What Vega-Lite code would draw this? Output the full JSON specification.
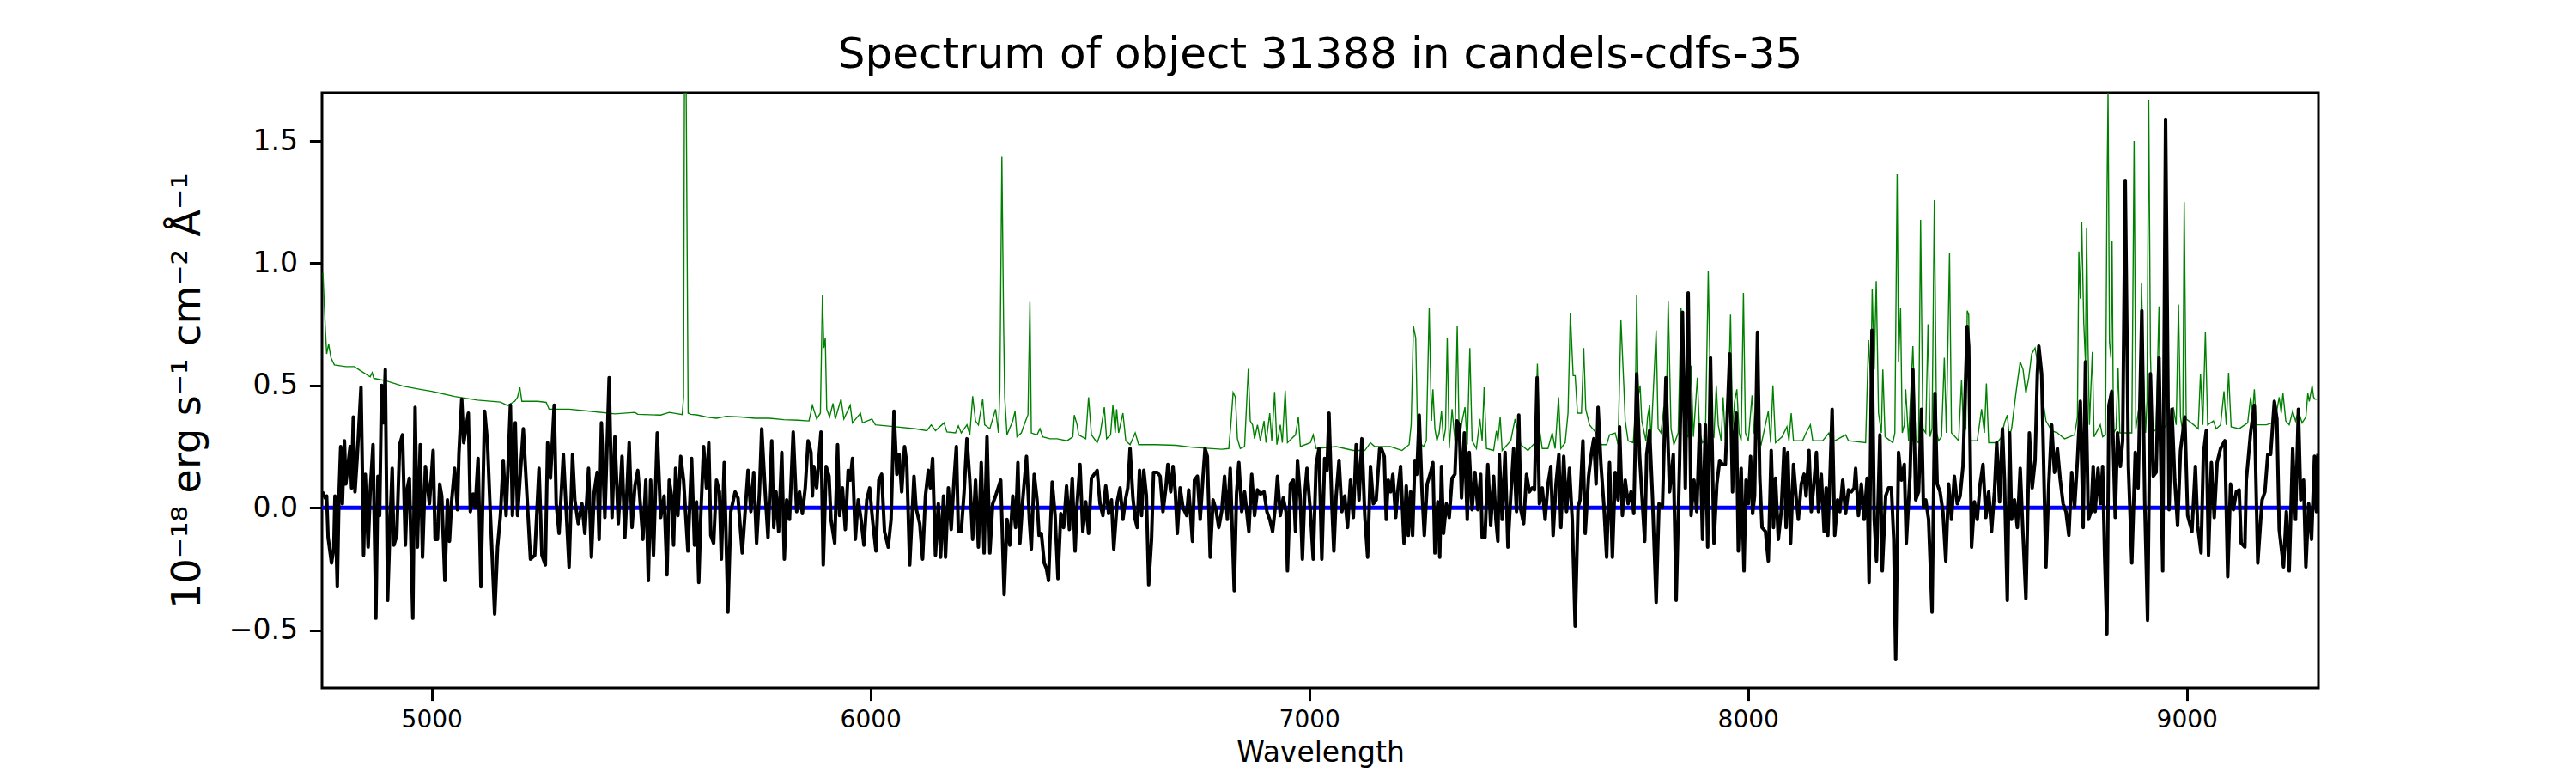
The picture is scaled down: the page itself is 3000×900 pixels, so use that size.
{
"$schema": "https://vega.github.io/schema/vega-lite/v6.json",
"autosize": {"type": "none"},
"width": 2325, "height": 693,
"padding": {"left": 375, "top": 108, "right": 300, "bottom": 99},
"background": "white",
"title": {"text": "Spectrum of object 31388 in candels-cdfs-35", "font": "DejaVu Sans", "fontSize": 50, "fontWeight": "normal", "color": "black", "anchor": "middle", "frame": "group", "baseline": "bottom", "offset": 14, "dy": 45},
"config": {
  "font": "DejaVu Sans",
  "view": {"stroke": "black", "strokeWidth": 3},
  "axis": {"grid": false, "domain": false, "tickColor": "black", "tickWidth": 3, "tickSize": 14.6, "labelColor": "black", "titleColor": "black", "titleFontWeight": "normal", "labelFont": "DejaVu Sans", "titleFont": "DejaVu Sans"}
},
"datasets": {
"flux": [
{"w":4750.8,"v":0.065},{"w":4757.4,"v":0.040},{"w":4760.6,"v":0.048},{"w":4763.9,"v":-0.121},{"w":4771.7,"v":-0.226},{"w":4776.9,"v":-0.161},{"w":4779.5,"v":0.048},{"w":4784.8,"v":-0.323},{"w":4788.7,"v":0.048},{"w":4792.6,"v":0.250},{"w":4796.5,"v":0.016},{"w":4801.1,"v":0.274},{"w":4804.3,"v":0.097},{"w":4809.5,"v":0.177},{"w":4814.1,"v":0.250},{"w":4817.4,"v":0.081},{"w":4821.3,"v":0.371},{"w":4825.2,"v":0.065},{"w":4830.4,"v":0.210},{"w":4838.9,"v":0.492},{"w":4842.2,"v":0.129},{"w":4844.8,"v":-0.194},{"w":4848.7,"v":0.137},{"w":4855.2,"v":-0.161},{"w":4859.8,"v":0.065},{"w":4866.3,"v":0.258},{"w":4872.8,"v":-0.452},{"w":4877.4,"v":0.129},{"w":4881.3,"v":-0.032},{"w":4885.9,"v":0.500},{"w":4890.4,"v":0.347},{"w":4894.3,"v":0.565},{"w":4899.6,"v":-0.379},{"w":4905.4,"v":-0.048},{"w":4910.0,"v":0.161},{"w":4913.9,"v":-0.153},{"w":4920.4,"v":-0.113},{"w":4927.0,"v":0.258},{"w":4933.5,"v":0.298},{"w":4940.0,"v":-0.153},{"w":4944.6,"v":0.081},{"w":4949.1,"v":0.121},{"w":4957.0,"v":-0.452},{"w":4962.2,"v":0.411},{"w":4967.4,"v":-0.161},{"w":4973.9,"v":0.258},{"w":4979.1,"v":-0.202},{"w":4985.7,"v":0.169},{"w":4994.8,"v":0.016},{"w":5003.3,"v":0.234},{"w":5007.8,"v":-0.129},{"w":5013.1,"v":-0.129},{"w":5018.3,"v":0.097},{"w":5022.9,"v":0.048},{"w":5030.0,"v":-0.298},{"w":5035.9,"v":0.032},{"w":5040.5,"v":-0.137},{"w":5045.7,"v":0.032},{"w":5052.2,"v":0.161},{"w":5058.7,"v":-0.008},{"w":5062.0,"v":0.218},{"w":5068.5,"v":0.444},{"w":5073.1,"v":0.266},{"w":5083.5,"v":0.387},{"w":5088.1,"v":-0.016},{"w":5094.6,"v":0.056},{"w":5099.2,"v":0.0},{"w":5105.7,"v":0.202},{"w":5112.2,"v":-0.323},{"w":5120.7,"v":0.395},{"w":5127.2,"v":0.266},{"w":5133.8,"v":-0.032},{"w":5143.5,"v":-0.435},{"w":5150.1,"v":-0.161},{"w":5156.6,"v":-0.032},{"w":5163.1,"v":0.194},{"w":5169.6,"v":-0.032},{"w":5179.4,"v":0.419},{"w":5184.0,"v":-0.032},{"w":5190.5,"v":0.347},{"w":5195.7,"v":-0.032},{"w":5208.8,"v":0.323},{"w":5225.1,"v":-0.210},{"w":5234.9,"v":-0.194},{"w":5244.6,"v":0.161},{"w":5251.2,"v":-0.194},{"w":5259.0,"v":-0.234},{"w":5264.2,"v":0.266},{"w":5270.7,"v":0.121},{"w":5279.2,"v":0.419},{"w":5283.8,"v":0.016},{"w":5290.3,"v":-0.105},{"w":5300.1,"v":0.218},{"w":5313.1,"v":-0.242},{"w":5321.0,"v":0.218},{"w":5326.2,"v":0.032},{"w":5334.0,"v":-0.065},{"w":5342.5,"v":0.016},{"w":5349.0,"v":-0.105},{"w":5357.5,"v":0.161},{"w":5364.0,"v":-0.202},{"w":5370.5,"v":0.065},{"w":5377.1,"v":0.145},{"w":5381.6,"v":-0.129},{"w":5386.8,"v":0.347},{"w":5394.7,"v":-0.040},{"w":5404.4,"v":0.532},{"w":5411.0,"v":-0.040},{"w":5417.5,"v":0.290},{"w":5425.3,"v":-0.065},{"w":5433.8,"v":0.210},{"w":5440.3,"v":-0.121},{"w":5450.1,"v":0.266},{"w":5456.6,"v":-0.081},{"w":5463.2,"v":0.089},{"w":5469.7,"v":0.153},{"w":5481.4,"v":-0.129},{"w":5488.0,"v":0.113},{"w":5493.8,"v":-0.298},{"w":5499.0,"v":0.113},{"w":5505.5,"v":-0.194},{"w":5514.1,"v":0.306},{"w":5521.9,"v":-0.040},{"w":5529.7,"v":0.048},{"w":5536.2,"v":-0.274},{"w":5541.4,"v":0.113},
{"w":5546.7,"v":0.048},{"w":5551.3,"v":-0.153},{"w":5555.8,"v":0.161},{"w":5561.1,"v":-0.032},{"w":5567.6,"v":0.210},{"w":5574.1,"v":0.113},{"w":5583.9,"v":-0.177},{"w":5592.4,"v":0.202},{"w":5598.9,"v":-0.153},{"w":5603.5,"v":0.024},{"w":5608.7,"v":-0.306},{"w":5613.3,"v":-0.032},{"w":5619.8,"v":0.250},{"w":5626.3,"v":0.081},{"w":5631.5,"v":0.266},{"w":5636.1,"v":-0.113},{"w":5642.6,"v":-0.145},{"w":5649.1,"v":0.113},{"w":5655.7,"v":0.065},{"w":5660.2,"v":-0.210},{"w":5666.7,"v":0.185},{"w":5675.2,"v":-0.427},{"w":5681.7,"v":-0.016},{"w":5691.5,"v":0.065},{"w":5698.1,"v":0.040},{"w":5707.8,"v":-0.185},{"w":5714.4,"v":-0.016},{"w":5720.9,"v":0.153},{"w":5727.4,"v":-0.016},{"w":5733.9,"v":0.145},{"w":5740.5,"v":-0.145},{"w":5747.0,"v":0.065},{"w":5752.2,"v":0.323},{"w":5760.0,"v":0.065},{"w":5766.5,"v":-0.121},{"w":5775.0,"v":0.274},{"w":5779.6,"v":-0.081},{"w":5784.8,"v":0.065},{"w":5790.7,"v":-0.097},{"w":5797.9,"v":0.226},{"w":5803.7,"v":-0.210},{"w":5809.0,"v":0.032},{"w":5815.5,"v":-0.048},{"w":5823.9,"v":0.310},{"w":5831.8,"v":-0.016},{"w":5838.3,"v":0.065},{"w":5844.8,"v":-0.024},{"w":5851.3,"v":0.081},{"w":5857.9,"v":0.274},{"w":5864.4,"v":0.226},{"w":5867.7,"v":0.048},{"w":5870.9,"v":0.169},{"w":5877.4,"v":0.081},{"w":5887.2,"v":0.310},{"w":5892.4,"v":-0.234},{"w":5899.0,"v":0.169},{"w":5905.5,"v":0.129},{"w":5910.0,"v":-0.048},{"w":5918.5,"v":-0.145},{"w":5925.1,"v":0.258},{"w":5929.6,"v":-0.032},{"w":5936.1,"v":0.081},{"w":5942.7,"v":-0.089},{"w":5949.2,"v":0.153},{"w":5953.8,"v":0.113},{"w":5959.0,"v":0.202},{"w":5965.5,"v":-0.129},{"w":5972.0,"v":0.032},{"w":5978.5,"v":-0.048},{"w":5985.1,"v":-0.153},{"w":5991.6,"v":0.032},{"w":5998.1,"v":0.081},{"w":6004.6,"v":-0.048},{"w":6012.5,"v":-0.177},{"w":6019.0,"v":0.113},{"w":6025.5,"v":0.137},{"w":6032.0,"v":-0.097},{"w":6040.5,"v":-0.161},{"w":6047.0,"v":-0.048},{"w":6053.6,"v":0.395},{"w":6060.1,"v":0.137},{"w":6065.3,"v":0.218},{"w":6071.2,"v":0.065},{"w":6077.7,"v":0.250},{"w":6082.9,"v":0.177},{"w":6089.4,"v":-0.234},{"w":6099.2,"v":0.129},{"w":6103.8,"v":0.0},{"w":6112.3,"v":-0.065},{"w":6118.8,"v":-0.210},{"w":6125.3,"v":0.048},{"w":6131.8,"v":0.153},{"w":6136.4,"v":0.081},{"w":6141.6,"v":0.202},{"w":6148.1,"v":-0.194},{"w":6154.7,"v":0.016},{"w":6159.9,"v":-0.202},{"w":6166.4,"v":0.048},{"w":6171.0,"v":-0.202},{"w":6177.5,"v":0.081},{"w":6184.0,"v":-0.089},{"w":6190.5,"v":0.113},{"w":6195.8,"v":0.250},{"w":6200.3,"v":-0.097},{"w":6206.9,"v":-0.097},{"w":6213.4,"v":0.065},{"w":6219.9,"v":0.282},{"w":6226.4,"v":0.113},{"w":6232.9,"v":-0.129},{"w":6239.5,"v":0.113},{"w":6246.0,"v":-0.161},{"w":6252.5,"v":0.185},{"w":6259.0,"v":-0.185},{"w":6265.6,"v":0.290},{"w":6272.1,"v":-0.185},{"w":6278.6,"v":0.016},{"w":6285.1,"v":0.048},{"w":6296.9,"v":0.113},{"w":6304.7,"v":-0.355},{"w":6311.2,"v":-0.048},{"w":6317.7,"v":-0.153},{"w":6324.3,"v":0.048},{"w":6330.8,"v":-0.081},{"w":6336.0,"v":0.185},{"w":6340.6,"v":-0.145},{"w":6347.1,"v":0.032},{"w":6355.6,"v":0.210},{"w":6362.1,"v":-0.048},
{"w":6366.6,"v":-0.169},{"w":6373.2,"v":0.137},{"w":6379.7,"v":0.032},{"w":6384.2,"v":-0.113},{"w":6389.5,"v":-0.105},{"w":6396.0,"v":-0.226},{"w":6401.2,"v":-0.250},{"w":6405.8,"v":-0.298},{"w":6414.2,"v":0.105},{"w":6420.8,"v":-0.032},{"w":6427.3,"v":-0.290},{"w":6433.8,"v":-0.024},{"w":6440.3,"v":-0.081},{"w":6446.9,"v":0.089},{"w":6453.4,"v":-0.089},{"w":6459.9,"v":0.121},{"w":6466.4,"v":-0.177},{"w":6471.0,"v":0.016},{"w":6477.5,"v":0.177},{"w":6484.0,"v":-0.097},{"w":6490.6,"v":0.024},{"w":6497.1,"v":-0.105},{"w":6503.6,"v":0.121},{"w":6510.1,"v":0.137},{"w":6516.7,"v":0.153},{"w":6523.2,"v":0.016},{"w":6529.7,"v":-0.032},{"w":6536.2,"v":0.089},{"w":6542.8,"v":-0.024},{"w":6549.3,"v":0.032},{"w":6554.5,"v":-0.169},{"w":6562.3,"v":0.024},{"w":6568.8,"v":0.081},{"w":6575.4,"v":-0.048},{"w":6581.9,"v":0.040},{"w":6586.5,"v":0.081},{"w":6591.7,"v":0.242},{"w":6598.2,"v":0.040},{"w":6603.4,"v":-0.048},{"w":6608.0,"v":-0.081},{"w":6613.2,"v":0.153},{"w":6617.8,"v":-0.032},{"w":6623.0,"v":0.153},{"w":6628.9,"v":0.048},{"w":6634.1,"v":-0.315},{"w":6640.6,"v":-0.129},{"w":6645.2,"v":0.145},{"w":6653.6,"v":0.145},{"w":6660.2,"v":0.129},{"w":6666.7,"v":-0.016},{"w":6673.2,"v":0.081},{"w":6677.8,"v":0.177},{"w":6684.3,"v":0.065},{"w":6689.5,"v":0.169},{"w":6694.7,"v":0.065},{"w":6699.3,"v":-0.105},{"w":6705.8,"v":0.081},{"w":6712.3,"v":0.0},{"w":6720.8,"v":-0.032},{"w":6725.4,"v":0.073},{"w":6733.9,"v":-0.137},{"w":6738.4,"v":0.113},{"w":6745.0,"v":0.129},{"w":6751.5,"v":-0.048},{"w":6758.0,"v":0.129},{"w":6762.6,"v":0.242},{"w":6767.8,"v":0.210},{"w":6774.3,"v":-0.202},{"w":6780.8,"v":0.032},{"w":6787.4,"v":-0.008},{"w":6793.9,"v":-0.081},{"w":6800.4,"v":-0.016},{"w":6807.0,"v":0.129},{"w":6813.5,"v":-0.048},{"w":6820.0,"v":0.161},{"w":6829.1,"v":-0.339},{"w":6834.3,"v":0.056},{"w":6839.6,"v":0.185},{"w":6846.1,"v":-0.016},{"w":6852.6,"v":0.065},{"w":6862.4,"v":-0.097},{"w":6868.9,"v":0.137},{"w":6875.4,"v":-0.032},{"w":6882.0,"v":0.073},{"w":6888.5,"v":0.056},{"w":6897.0,"v":0.065},{"w":6903.5,"v":-0.016},{"w":6910.0,"v":-0.048},{"w":6916.5,"v":-0.097},{"w":6923.0,"v":0.008},{"w":6927.6,"v":0.129},{"w":6934.1,"v":-0.032},{"w":6940.7,"v":0.040},{"w":6947.2,"v":-0.016},{"w":6950.4,"v":-0.258},{"w":6957.0,"v":0.097},{"w":6963.5,"v":0.113},{"w":6968.7,"v":-0.097},{"w":6973.3,"v":0.194},{"w":6979.8,"v":0.032},{"w":6984.4,"v":-0.210},{"w":6989.6,"v":0.048},{"w":6994.8,"v":0.161},{"w":7002.6,"v":-0.016},{"w":7009.1,"v":-0.210},{"w":7015.7,"v":0.177},{"w":7022.2,"v":0.242},{"w":7028.7,"v":-0.210},{"w":7035.2,"v":0.202},{"w":7040.5,"v":0.153},{"w":7045.0,"v":0.387},{"w":7051.5,"v":0.016},{"w":7056.1,"v":-0.177},{"w":7061.3,"v":0.048},{"w":7067.9,"v":0.194},{"w":7074.4,"v":-0.016},{"w":7080.9,"v":0.048},{"w":7087.4,"v":-0.081},{"w":7094.0,"v":0.113},{"w":7100.5,"v":-0.040},{"w":7107.0,"v":0.258},{"w":7113.5,"v":0.032},{"w":7120.0,"v":0.282},{"w":7126.6,"v":-0.032},{"w":7133.1,"v":-0.202},{"w":7139.6,"v":0.169},{"w":7146.1,"v":0.016},{"w":7152.6,"v":0.032},{"w":7160.5,"v":0.242},
{"w":7164.5,"v":0.242},{"w":7171.0,"v":0.210},{"w":7175.6,"v":-0.048},{"w":7180.1,"v":0.113},{"w":7185.3,"v":0.065},{"w":7190.6,"v":0.137},{"w":7197.1,"v":-0.040},{"w":7201.6,"v":0.065},{"w":7208.2,"v":0.169},{"w":7216.0,"v":-0.145},{"w":7221.2,"v":0.089},{"w":7225.8,"v":-0.113},{"w":7231.0,"v":0.065},{"w":7235.6,"v":-0.113},{"w":7240.8,"v":0.194},{"w":7245.3,"v":0.137},{"w":7250.6,"v":0.379},{"w":7257.1,"v":0.065},{"w":7262.3,"v":-0.113},{"w":7268.8,"v":0.097},{"w":7276.7,"v":0.145},{"w":7281.9,"v":0.185},{"w":7286.4,"v":-0.185},{"w":7293.0,"v":0.024},{"w":7297.5,"v":-0.202},{"w":7301.4,"v":0.169},{"w":7306.0,"v":-0.105},{"w":7312.5,"v":0.016},{"w":7319.1,"v":-0.040},{"w":7325.6,"v":0.121},{"w":7332.1,"v":0.137},{"w":7336.7,"v":0.355},{"w":7341.9,"v":0.339},{"w":7347.1,"v":0.040},{"w":7353.6,"v":0.306},{"w":7360.2,"v":-0.048},{"w":7364.7,"v":0.226},{"w":7371.2,"v":-0.008},{"w":7377.8,"v":0.145},{"w":7384.3,"v":-0.008},{"w":7390.8,"v":0.137},{"w":7394.1,"v":-0.121},{"w":7400.6,"v":-0.121},{"w":7407.1,"v":0.177},{"w":7413.6,"v":-0.073},{"w":7420.2,"v":0.129},{"w":7425.4,"v":-0.048},{"w":7429.9,"v":-0.137},{"w":7433.2,"v":0.218},{"w":7439.7,"v":-0.048},{"w":7446.3,"v":0.226},{"w":7452.8,"v":-0.161},{"w":7459.3,"v":0.048},{"w":7465.8,"v":0.242},{"w":7472.4,"v":-0.016},{"w":7477.6,"v":0.379},{"w":7482.1,"v":-0.008},{"w":7488.7,"v":-0.065},{"w":7495.2,"v":0.137},{"w":7501.7,"v":0.065},{"w":7508.2,"v":0.081},{"w":7513.4,"v":0.073},{"w":7519.3,"v":0.532},{"w":7524.5,"v":0.016},{"w":7531.1,"v":0.081},{"w":7537.6,"v":-0.048},{"w":7544.1,"v":0.097},{"w":7550.6,"v":0.169},{"w":7555.8,"v":-0.113},{"w":7562.4,"v":0.097},{"w":7568.9,"v":0.218},{"w":7573.5,"v":-0.081},{"w":7580.0,"v":0.210},{"w":7586.5,"v":-0.016},{"w":7593.0,"v":0.161},{"w":7599.6,"v":-0.056},{"w":7606.1,"v":-0.484},{"w":7612.6,"v":0.0},{"w":7617.2,"v":0.032},{"w":7623.7,"v":0.274},{"w":7628.9,"v":-0.105},{"w":7636.7,"v":0.129},{"w":7643.3,"v":0.226},{"w":7648.5,"v":0.282},{"w":7653.7,"v":0.097},{"w":7658.3,"v":0.411},{"w":7664.8,"v":0.177},{"w":7671.3,"v":0.016},{"w":7677.8,"v":-0.202},{"w":7684.4,"v":0.185},{"w":7690.9,"v":-0.202},{"w":7697.4,"v":0.145},{"w":7703.9,"v":0.032},{"w":7707.2,"v":0.331},{"w":7713.7,"v":-0.032},{"w":7720.2,"v":0.113},{"w":7726.7,"v":0.016},{"w":7733.3,"v":0.065},{"w":7739.8,"v":-0.024},{"w":7746.3,"v":0.548},{"w":7752.8,"v":0.218},{"w":7759.4,"v":0.016},{"w":7764.6,"v":-0.137},{"w":7769.1,"v":0.218},{"w":7775.7,"v":0.315},{"w":7782.2,"v":0.048},{"w":7790.7,"v":-0.387},{"w":7797.2,"v":0.016},{"w":7805.0,"v":0.0},{"w":7812.9,"v":0.532},{"w":7821.3,"v":0.065},{"w":7829.8,"v":0.218},{"w":7836.3,"v":-0.379},{"w":7844.2,"v":0.194},{"w":7850.7,"v":0.800},{"w":7857.2,"v":0.081},{"w":7863.7,"v":0.879},{"w":7870.3,"v":-0.032},{"w":7876.8,"v":0.113},{"w":7883.3,"v":-0.016},{"w":7889.8,"v":0.339},{"w":7896.4,"v":-0.129},{"w":7902.9,"v":0.339},{"w":7908.1,"v":-0.161},{"w":7914.6,"v":0.613},{"w":7922.4,"v":-0.145},{"w":7929.0,"v":0.097},{"w":7935.5,"v":0.194},{"w":7942.0,"v":0.177},{"w":7948.5,"v":0.177},{"w":7958.3,"v":0.629},{"w":7964.8,"v":0.065},
{"w":7968.1,"v":0.274},{"w":7973.3,"v":0.387},{"w":7977.9,"v":-0.177},{"w":7984.4,"v":0.161},{"w":7990.9,"v":-0.258},{"w":7995.5,"v":0.113},{"w":8000.7,"v":0.016},{"w":8005.9,"v":0.210},{"w":8010.5,"v":-0.024},{"w":8015.0,"v":0.048},{"w":8021.6,"v":0.718},{"w":8026.8,"v":0.129},{"w":8032.0,"v":-0.081},{"w":8039.8,"v":-0.097},{"w":8046.3,"v":-0.218},{"w":8052.9,"v":0.234},{"w":8058.1,"v":-0.081},{"w":8062.7,"v":0.121},{"w":8069.2,"v":-0.129},{"w":8075.7,"v":-0.016},{"w":8082.2,"v":0.242},{"w":8086.8,"v":-0.081},{"w":8090.7,"v":0.226},{"w":8097.2,"v":-0.145},{"w":8103.7,"v":0.177},{"w":8110.3,"v":0.032},{"w":8114.8,"v":-0.048},{"w":8121.4,"v":0.097},{"w":8127.9,"v":0.137},{"w":8132.4,"v":0.048},{"w":8139.0,"v":0.234},{"w":8144.2,"v":-0.016},{"w":8149.4,"v":0.081},{"w":8155.9,"v":0.226},{"w":8160.5,"v":-0.016},{"w":8167.0,"v":0.137},{"w":8173.5,"v":-0.097},{"w":8178.1,"v":0.081},{"w":8182.0,"v":-0.113},{"w":8186.6,"v":0.113},{"w":8191.8,"v":0.403},{"w":8197.7,"v":-0.113},{"w":8204.2,"v":0.032},{"w":8209.4,"v":-0.016},{"w":8215.9,"v":0.113},{"w":8222.5,"v":-0.024},{"w":8229.0,"v":0.073},{"w":8235.5,"v":0.065},{"w":8242.0,"v":0.081},{"w":8245.3,"v":0.161},{"w":8251.8,"v":-0.032},{"w":8258.3,"v":0.097},{"w":8264.9,"v":-0.048},{"w":8271.4,"v":0.121},{"w":8276.0,"v":-0.306},{"w":8282.5,"v":0.726},{"w":8287.7,"v":-0.048},{"w":8292.9,"v":-0.218},{"w":8300.7,"v":0.298},{"w":8306.0,"v":-0.258},{"w":8313.8,"v":0.048},{"w":8320.3,"v":0.081},{"w":8326.8,"v":0.081},{"w":8332.1,"v":-0.129},{"w":8336.6,"v":-0.621},{"w":8343.1,"v":0.226},{"w":8349.7,"v":0.113},{"w":8356.2,"v":0.177},{"w":8360.8,"v":-0.145},{"w":8369.2,"v":0.129},{"w":8375.8,"v":0.565},{"w":8382.3,"v":0.032},{"w":8388.8,"v":0.065},{"w":8395.3,"v":0.403},{"w":8399.9,"v":0.0},{"w":8405.1,"v":0.032},{"w":8411.6,"v":-0.048},{"w":8419.5,"v":-0.427},{"w":8426.0,"v":0.468},{"w":8431.2,"v":0.097},{"w":8437.7,"v":0.065},{"w":8444.3,"v":-0.016},{"w":8450.8,"v":-0.218},{"w":8457.3,"v":0.097},{"w":8463.8,"v":-0.048},{"w":8470.3,"v":0.129},{"w":8476.9,"v":0.016},{"w":8483.4,"v":0.048},{"w":8489.9,"v":0.169},{"w":8499.7,"v":0.742},{"w":8503.0,"v":0.661},{"w":8509.5,"v":-0.161},{"w":8516.0,"v":0.024},{"w":8522.5,"v":-0.048},{"w":8529.0,"v":0.097},{"w":8535.6,"v":0.177},{"w":8542.1,"v":-0.040},{"w":8548.6,"v":0.065},{"w":8555.1,"v":-0.097},{"w":8561.7,"v":0.065},{"w":8566.9,"v":0.266},{"w":8573.4,"v":0.024},{"w":8579.9,"v":0.323},{"w":8584.5,"v":0.113},{"w":8591.0,"v":-0.379},{"w":8596.2,"v":0.306},{"w":8600.8,"v":-0.048},{"w":8607.3,"v":0.032},{"w":8613.9,"v":-0.081},{"w":8620.4,"v":0.161},{"w":8626.9,"v":-0.113},{"w":8633.4,"v":-0.371},{"w":8641.3,"v":0.306},{"w":8647.8,"v":0.081},{"w":8654.3,"v":0.194},{"w":8659.5,"v":0.548},{"w":8662.8,"v":0.661},{"w":8669.3,"v":0.548},{"w":8679.1,"v":-0.242},{"w":8685.6,"v":0.097},{"w":8692.1,"v":0.339},{"w":8698.6,"v":0.145},{"w":8705.2,"v":0.242},{"w":8711.7,"v":0.113},{"w":8718.2,"v":0.016},{"w":8724.7,"v":-0.016},{"w":8731.3,"v":-0.113},{"w":8737.8,"v":0.145},{"w":8744.3,"v":0.0},{"w":8750.8,"v":0.194},{"w":8757.4,"v":0.435},{"w":8763.9,"v":-0.081},{"w":8769.1,"v":0.597},
{"w":8775.6,"v":-0.048},{"w":8782.1,"v":-0.016},{"w":8786.7,"v":0.169},{"w":8791.3,"v":-0.016},{"w":8797.8,"v":0.161},{"w":8803.0,"v":0.016},{"w":8808.2,"v":0.169},{"w":8812.8,"v":-0.194},{"w":8818.0,"v":-0.516},{"w":8822.6,"v":0.419},{"w":8829.1,"v":0.476},{"w":8837.0,"v":-0.040},{"w":8842.2,"v":0.306},{"w":8848.7,"v":0.169},{"w":8853.9,"v":0.274},{"w":8859.8,"v":1.339},{"w":8867.0,"v":0.169},{"w":8874.8,"v":-0.226},{"w":8882.6,"v":0.226},{"w":8889.1,"v":0.081},{"w":8897.6,"v":0.806},{"w":8904.1,"v":0.032},{"w":8910.7,"v":-0.460},{"w":8917.2,"v":0.548},{"w":8923.7,"v":0.129},{"w":8930.2,"v":0.145},{"w":8936.7,"v":0.613},{"w":8945.2,"v":-0.258},{"w":8951.7,"v":1.589},{"w":8959.6,"v":-0.008},{"w":8966.1,"v":0.403},{"w":8972.6,"v":0.113},{"w":8979.1,"v":-0.073},{"w":8985.7,"v":0.234},{"w":8995.5,"v":0.371},{"w":9002.0,"v":-0.032},{"w":9011.8,"v":-0.097},{"w":9019.6,"v":0.169},{"w":9024.8,"v":-0.073},{"w":9032.6,"v":-0.185},{"w":9037.9,"v":0.218},{"w":9044.4,"v":0.315},{"w":9049.6,"v":-0.194},{"w":9056.1,"v":0.185},{"w":9062.6,"v":-0.040},{"w":9069.2,"v":0.185},{"w":9077.0,"v":0.242},{"w":9086.8,"v":0.274},{"w":9093.3,"v":-0.282},{"w":9099.8,"v":0.097},{"w":9106.3,"v":-0.008},{"w":9112.9,"v":0.065},{"w":9119.4,"v":0.073},{"w":9124.0,"v":-0.145},{"w":9132.4,"v":-0.161},{"w":9135.7,"v":0.113},{"w":9145.5,"v":0.306},{"w":9153.9,"v":0.419},{"w":9161.8,"v":-0.226},{"w":9171.6,"v":0.032},{"w":9178.1,"v":0.065},{"w":9184.6,"v":0.218},{"w":9191.1,"v":0.218},{"w":9199.6,"v":0.435},{"w":9205.5,"v":0.363},{"w":9210.7,"v":-0.089},{"w":9220.5,"v":-0.242},{"w":9227.0,"v":-0.016},{"w":9233.5,"v":-0.258},{"w":9241.4,"v":0.242},{"w":9247.9,"v":-0.048},{"w":9254.4,"v":0.403},{"w":9259.6,"v":0.032},{"w":9266.2,"v":0.113},{"w":9271.4,"v":-0.242},{"w":9277.9,"v":0.016},{"w":9284.4,"v":-0.129},{"w":9291.0,"v":0.210},{"w":9295.5,"v":-0.016},{"w":9298.8,"v":0.220}
],
"err": [
{"w":4752.1,"v":0.960},{"w":4757.4,"v":0.742},{"w":4760.6,"v":0.629},{"w":4765.2,"v":0.669},{"w":4770.4,"v":0.613},{"w":4778.2,"v":0.584},{"w":4804.3,"v":0.577},{"w":4823.9,"v":0.577},{"w":4837.0,"v":0.561},{"w":4859.8,"v":0.535},{"w":4864.3,"v":0.552},{"w":4868.3,"v":0.529},{"w":4895.7,"v":0.519},{"w":4934.8,"v":0.497},{"w":4973.9,"v":0.484},{"w":5000.0,"v":0.476},{"w":5052.2,"v":0.455},{"w":5104.4,"v":0.440},{"w":5156.6,"v":0.432},{"w":5172.9,"v":0.418},{"w":5189.2,"v":0.435},{"w":5195.7,"v":0.452},{"w":5200.9,"v":0.492},{"w":5205.5,"v":0.435},{"w":5241.4,"v":0.435},{"w":5261.0,"v":0.431},{"w":5267.5,"v":0.403},{"w":5313.1,"v":0.403},{"w":5365.3,"v":0.394},{"w":5417.5,"v":0.384},{"w":5463.2,"v":0.390},{"w":5469.7,"v":0.382},{"w":5521.9,"v":0.379},
{"w":5541.5,"v":0.390},{"w":5570.9,"v":0.381},{"w":5574.0,"v":0.450},{"w":5576.0,"v":2.5},{"w":5580.0,"v":2.5},{"w":5584.5,"v":0.387},{"w":5590.4,"v":0.382},{"w":5606.7,"v":0.379},{"w":5626.3,"v":0.371},{"w":5649.1,"v":0.366},{"w":5672.0,"v":0.374},{"w":5704.6,"v":0.371},{"w":5737.2,"v":0.366},{"w":5769.8,"v":0.366},{"w":5802.4,"v":0.360},{"w":5835.0,"v":0.358},{"w":5859.8,"v":0.355},{"w":5867.7,"v":0.419},{"w":5877.4,"v":0.363},{"w":5885.9,"v":0.387},{"w":5890.5,"v":0.871},{"w":5893.7,"v":0.653},{"w":5897.0,"v":0.694},{"w":5900.3,"v":0.403},{"w":5906.8,"v":0.371},{"w":5914.6,"v":0.427},{"w":5919.8,"v":0.363},{"w":5932.9,"v":0.444},{"w":5939.4,"v":0.363},{"w":5953.8,"v":0.419},{"w":5959.0,"v":0.347},{"w":5977.2,"v":0.387},{"w":5981.8,"v":0.347},{"w":6003.3,"v":0.363},{"w":6011.2,"v":0.339},{"w":6056.8,"v":0.331},{"w":6102.5,"v":0.323},{"w":6128.6,"v":0.315},{"w":6138.4,"v":0.339},{"w":6148.1,"v":0.315},{"w":6167.7,"v":0.347},{"w":6174.2,"v":0.310},{"w":6193.8,"v":0.306},{"w":6200.3,"v":0.335},{"w":6206.9,"v":0.306},{"w":6219.9,"v":0.339},{"w":6226.4,"v":0.298},{"w":6232.9,"v":0.456},{"w":6239.5,"v":0.355},{"w":6246.0,"v":0.339},{"w":6255.8,"v":0.444},{"w":6260.3,"v":0.339},{"w":6272.1,"v":0.323},{"w":6285.1,"v":0.403},{"w":6291.6,"v":0.306},{"w":6294.9,"v":0.484},{"w":6299.5,"v":1.435},{"w":6303.4,"v":0.758},{"w":6306.0,"v":0.452},{"w":6311.2,"v":0.298},{"w":6324.3,"v":0.355},{"w":6329.5,"v":0.395},{"w":6334.0,"v":0.290},{"w":6343.8,"v":0.306},{"w":6353.6,"v":0.355},{"w":6359.0,"v":0.380},
{"w":6363.4,"v":0.842},{"w":6366.6,"v":0.306},{"w":6379.7,"v":0.298},{"w":6386.2,"v":0.323},{"w":6392.7,"v":0.290},{"w":6409.0,"v":0.282},{"w":6425.3,"v":0.282},{"w":6448.2,"v":0.274},{"w":6461.2,"v":0.290},{"w":6464.5,"v":0.379},{"w":6471.0,"v":0.339},{"w":6474.3,"v":0.298},{"w":6490.6,"v":0.282},{"w":6497.1,"v":0.452},{"w":6503.6,"v":0.298},{"w":6516.7,"v":0.266},{"w":6523.2,"v":0.298},{"w":6533.0,"v":0.411},{"w":6538.2,"v":0.282},{"w":6547.3,"v":0.298},{"w":6552.5,"v":0.419},{"w":6557.8,"v":0.306},{"w":6561.0,"v":0.403},{"w":6565.6,"v":0.306},{"w":6575.4,"v":0.387},{"w":6581.9,"v":0.274},{"w":6591.7,"v":0.258},{"w":6603.4,"v":0.306},{"w":6611.3,"v":0.258},{"w":6650.4,"v":0.258},{"w":6696.0,"v":0.255},{"w":6735.2,"v":0.247},{"w":6800.4,"v":0.239},{"w":6816.7,"v":0.242},{"w":6821.3,"v":0.339},{"w":6826.5,"v":0.471},{"w":6831.7,"v":0.452},{"w":6836.3,"v":0.282},{"w":6842.8,"v":0.242},{"w":6852.6,"v":0.250},{"w":6861.1,"v":0.568},{"w":6865.6,"v":0.355},{"w":6870.9,"v":0.339},{"w":6875.4,"v":0.282},{"w":6882.0,"v":0.339},{"w":6888.5,"v":0.274},{"w":6897.0,"v":0.355},{"w":6901.5,"v":0.266},{"w":6910.0,"v":0.387},{"w":6914.6,"v":0.274},{"w":6921.1,"v":0.474},{"w":6926.3,"v":0.258},{"w":6934.1,"v":0.339},{"w":6938.7,"v":0.266},{"w":6945.2,"v":0.479},{"w":6950.4,"v":0.266},{"w":6968.7,"v":0.298},{"w":6975.2,"v":0.371},{"w":6979.8,"v":0.250},{"w":7002.6,"v":0.266},{"w":7009.1,"v":0.298},{"w":7015.7,"v":0.242},{"w":7061.3,"v":0.250},{"w":7100.5,"v":0.234},{"w":7126.6,"v":0.234},{"w":7139.6,"v":0.266},{"w":7149.4,"v":0.250},
{"w":7159.2,"v":0.250},{"w":7185.3,"v":0.250},{"w":7211.4,"v":0.234},{"w":7227.7,"v":0.258},{"w":7232.3,"v":0.339},{"w":7237.5,"v":0.742},{"w":7242.7,"v":0.694},{"w":7247.3,"v":0.274},{"w":7260.4,"v":0.250},{"w":7266.9,"v":0.274},{"w":7273.4,"v":0.815},{"w":7278.6,"v":0.355},{"w":7281.9,"v":0.484},{"w":7286.4,"v":0.323},{"w":7291.0,"v":0.274},{"w":7296.2,"v":0.306},{"w":7301.4,"v":0.395},{"w":7306.0,"v":0.274},{"w":7310.6,"v":0.323},{"w":7314.5,"v":0.694},{"w":7319.1,"v":0.242},{"w":7325.6,"v":0.403},{"w":7332.1,"v":0.274},{"w":7337.3,"v":0.742},{"w":7341.9,"v":0.274},{"w":7348.4,"v":0.355},{"w":7354.9,"v":0.411},{"w":7360.2,"v":0.258},{"w":7366.0,"v":0.653},{"w":7371.2,"v":0.274},{"w":7381.0,"v":0.242},{"w":7388.9,"v":0.363},{"w":7394.1,"v":0.274},{"w":7398.6,"v":0.492},{"w":7403.9,"v":0.242},{"w":7420.2,"v":0.234},{"w":7426.7,"v":0.315},{"w":7429.9,"v":0.274},{"w":7435.2,"v":0.371},{"w":7439.7,"v":0.234},{"w":7459.3,"v":0.274},{"w":7469.1,"v":0.363},{"w":7475.6,"v":0.315},{"w":7482.1,"v":0.258},{"w":7498.4,"v":0.234},{"w":7514.7,"v":0.266},{"w":7520.0,"v":0.589},{"w":7524.5,"v":0.323},{"w":7531.1,"v":0.242},{"w":7544.1,"v":0.242},{"w":7553.9,"v":0.306},{"w":7560.4,"v":0.242},{"w":7568.2,"v":0.452},{"w":7573.5,"v":0.242},{"w":7583.3,"v":0.266},{"w":7589.8,"v":0.387},{"w":7595.0,"v":0.798},{"w":7601.5,"v":0.540},{"w":7606.1,"v":0.540},{"w":7611.3,"v":0.387},{"w":7620.4,"v":0.387},{"w":7625.6,"v":0.653},{"w":7630.2,"v":0.403},{"w":7638.7,"v":0.339},{"w":7653.7,"v":0.306},{"w":7661.5,"v":0.258},{"w":7677.8,"v":0.258},{"w":7684.4,"v":0.298},{"w":7697.4,"v":0.306},{"w":7703.9,"v":0.258},{"w":7710.4,"v":0.766},{"w":7717.0,"v":0.500},{"w":7720.2,"v":0.355},{"w":7726.7,"v":0.274},{"w":7738.5,"v":0.266},{"w":7743.0,"v":0.379},{"w":7746.3,"v":0.871},{"w":7749.6,"v":0.452},{"w":7754.1,"v":0.500},{"w":7758.0,"v":0.355},{"w":7767.2,"v":0.274},{"w":7771.1,"v":0.371},{"w":7775.7,"v":0.419},{"w":7778.9,"v":0.274},{"w":7790.7,"v":0.726},{"w":7795.2,"v":0.323},{"w":7801.8,"v":0.306},{"w":7808.3,"v":0.411},{"w":7812.9,"v":0.290},{"w":7818.1,"v":0.847},{"w":7824.6,"v":0.323},{"w":7831.1,"v":0.258},{"w":7840.9,"v":0.306},{"w":7847.4,"v":0.815},{"w":7854.0,"v":0.306},{"w":7863.7,"v":0.290},{"w":7870.3,"v":0.581},{"w":7875.5,"v":0.290},{"w":7884.6,"v":0.532},{"w":7889.8,"v":0.306},{"w":7896.4,"v":0.266},{"w":7902.9,"v":0.282},{"w":7909.4,"v":0.968},{"w":7915.9,"v":0.306},{"w":7922.4,"v":0.290},{"w":7927.7,"v":0.500},{"w":7932.2,"v":0.339},{"w":7938.8,"v":0.274},{"w":7943.3,"v":0.452},{"w":7948.5,"v":0.274},
{"w":7953.7,"v":0.323},{"w":7960.2,"v":0.790},{"w":7964.8,"v":0.323},{"w":7969.4,"v":0.435},{"w":7974.6,"v":0.484},{"w":7979.8,"v":0.306},{"w":7984.4,"v":0.274},{"w":7989.6,"v":0.879},{"w":7994.2,"v":0.306},{"w":8000.7,"v":0.274},{"w":8009.2,"v":0.460},{"w":8013.8,"v":0.306},{"w":8030.0,"v":0.258},{"w":8046.3,"v":0.395},{"w":8051.6,"v":0.266},{"w":8056.8,"v":0.500},{"w":8062.7,"v":0.266},{"w":8077.7,"v":0.290},{"w":8088.7,"v":0.331},{"w":8093.3,"v":0.274},{"w":8098.5,"v":0.387},{"w":8103.7,"v":0.274},{"w":8124.6,"v":0.274},{"w":8132.4,"v":0.306},{"w":8142.2,"v":0.339},{"w":8147.5,"v":0.274},{"w":8170.3,"v":0.274},{"w":8184.6,"v":0.306},{"w":8189.9,"v":0.266},{"w":8222.5,"v":0.298},{"w":8229.0,"v":0.274},{"w":8268.1,"v":0.266},{"w":8274.7,"v":0.685},{"w":8279.9,"v":0.500},{"w":8283.1,"v":0.895},{"w":8287.7,"v":0.565},{"w":8292.3,"v":0.927},{"w":8297.5,"v":0.387},{"w":8304.0,"v":0.306},{"w":8307.3,"v":0.565},{"w":8312.5,"v":0.290},{"w":8330.1,"v":0.266},{"w":8334.7,"v":0.306},{"w":8339.9,"v":1.363},{"w":8343.1,"v":0.597},{"w":8347.7,"v":0.815},{"w":8351.6,"v":0.306},{"w":8356.2,"v":0.339},{"w":8359.4,"v":0.484},{"w":8366.0,"v":0.274},{"w":8375.8,"v":0.661},{"w":8382.3,"v":0.274},{"w":8388.8,"v":0.266},{"w":8393.4,"v":1.177},{"w":8398.6,"v":0.323},{"w":8405.1,"v":0.306},{"w":8410.3,"v":0.750},{"w":8414.9,"v":0.290},{"w":8419.5,"v":0.323},{"w":8424.7,"v":1.258},{"w":8429.9,"v":0.306},{"w":8434.5,"v":0.274},{"w":8441.0,"v":0.290},{"w":8447.5,"v":0.613},{"w":8452.1,"v":0.306},{"w":8459.3,"v":1.040},{"w":8463.8,"v":0.306},{"w":8480.1,"v":0.274},{"w":8486.7,"v":0.524},{"w":8491.2,"v":0.306},{"w":8496.4,"v":0.323},{"w":8499.7,"v":0.806},{"w":8503.0,"v":0.790},{"w":8508.2,"v":0.274},{"w":8522.5,"v":0.274},{"w":8532.3,"v":0.403},{"w":8538.8,"v":0.306},{"w":8543.4,"v":0.508},{"w":8548.6,"v":0.266},{"w":8568.2,"v":0.266},{"w":8578.0,"v":0.290},{"w":8584.5,"v":0.347},{"w":8591.0,"v":0.379},{"w":8595.6,"v":0.290},{"w":8600.8,"v":0.323},{"w":8610.6,"v":0.468},{"w":8620.4,"v":0.597},{"w":8626.9,"v":0.565},{"w":8633.4,"v":0.468},{"w":8639.9,"v":0.532},{"w":8646.5,"v":0.629},{"w":8654.3,"v":0.653},{"w":8659.5,"v":0.597},{"w":8666.0,"v":0.565},{"w":8672.6,"v":0.435},{"w":8679.1,"v":0.355},{"w":8692.1,"v":0.315},{"w":8705.2,"v":0.306},{"w":8721.5,"v":0.282},{"w":8744.3,"v":0.298},
{"w":8750.8,"v":0.371},{"w":8754.1,"v":1.048},{"w":8757.4,"v":0.855},{"w":8760.6,"v":1.169},{"w":8765.2,"v":0.758},{"w":8769.1,"v":0.597},{"w":8771.7,"v":1.145},{"w":8775.0,"v":0.661},{"w":8778.2,"v":0.339},{"w":8784.8,"v":0.637},{"w":8788.7,"v":0.290},{"w":8803.0,"v":0.339},{"w":8808.2,"v":0.290},{"w":8814.8,"v":0.298},{"w":8818.0,"v":1.242},{"w":8820.6,"v":2.0},{"w":8823.9,"v":0.677},{"w":8827.2,"v":0.613},{"w":8829.8,"v":1.089},{"w":8833.0,"v":0.306},{"w":8838.9,"v":0.323},{"w":8843.5,"v":0.573},{"w":8847.4,"v":0.306},{"w":8874.8,"v":0.306},{"w":8880.0,"v":1.500},{"w":8883.9,"v":0.323},{"w":8893.0,"v":0.435},{"w":8896.9,"v":0.919},{"w":8900.9,"v":0.565},{"w":8906.1,"v":0.306},{"w":8909.4,"v":0.435},{"w":8913.3,"v":1.669},{"w":8917.2,"v":0.629},{"w":8921.7,"v":0.306},{"w":8930.0,"v":0.320},{"w":8936.7,"v":0.823},{"w":8940.0,"v":0.306},{"w":8953.1,"v":0.339},{"w":8962.8,"v":0.355},{"w":8969.4,"v":0.411},{"w":8975.9,"v":0.339},{"w":8981.1,"v":0.831},{"w":8985.7,"v":0.371},{"w":8990.9,"v":0.306},{"w":8994.1,"v":1.250},{"w":8998.7,"v":0.363},{"w":9010.5,"v":0.347},{"w":9026.1,"v":0.323},{"w":9031.3,"v":0.548},{"w":9036.5,"v":0.339},{"w":9042.4,"v":0.718},{"w":9047.6,"v":0.339},{"w":9060.7,"v":0.355},{"w":9067.2,"v":0.323},{"w":9077.0,"v":0.339},{"w":9084.8,"v":0.476},{"w":9090.0,"v":0.339},{"w":9095.3,"v":0.552},{"w":9101.1,"v":0.331},{"w":9119.4,"v":0.323},{"w":9138.9,"v":0.347},{"w":9145.5,"v":0.452},{"w":9150.0,"v":0.387},{"w":9154.0,"v":0.484},{"w":9158.5,"v":0.339},{"w":9181.4,"v":0.339},{"w":9194.4,"v":0.347},{"w":9204.2,"v":0.387},{"w":9210.7,"v":0.452},{"w":9215.3,"v":0.387},{"w":9219.2,"v":0.468},{"w":9225.7,"v":0.355},{"w":9233.5,"v":0.339},{"w":9241.4,"v":0.395},{"w":9247.9,"v":0.355},{"w":9254.4,"v":0.395},{"w":9262.9,"v":0.347},{"w":9271.4,"v":0.371},{"w":9275.9,"v":0.468},{"w":9279.2,"v":0.435},{"w":9285.7,"v":0.500},{"w":9289.0,"v":0.452},{"w":9292.2,"v":0.444},{"w":9296.8,"v":0.444}
]
},
"layer": [
{
"data": {"name": "err"},
"mark": {"type": "line", "color": "#008000", "strokeWidth": 1.4, "clip": true},
"encoding": {
"x": {"field": "w", "type": "quantitative", "scale": {"domain": [4750, 9300], "nice": false, "zero": false}, "axis": {"values": [5000, 6000, 7000, 8000, 9000], "format": "d", "title": "Wavelength", "labelFontSize": 28, "titleFontSize": 33, "labelPadding": 9, "titlePadding": 8}},
"y": {"field": "v", "type": "quantitative", "scale": {"domain": [-0.737, 1.697], "nice": false, "zero": false, "clamp": true}, "axis": {"values": [-0.5, 0, 0.5, 1, 1.5], "format": ".1f", "title": "10⁻¹⁸ erg s⁻¹ cm⁻² Å⁻¹", "labelFontSize": 33, "titleFontSize": 46, "labelPadding": 14, "titlePadding": 24}}
}
},
{
"data": {"values": [{}]},
"mark": {"type": "rule", "color": "#0000ff", "strokeWidth": 5},
"encoding": {"y": {"datum": 0, "type": "quantitative"}}
},
{
"data": {"name": "flux"},
"mark": {"type": "line", "color": "black", "strokeWidth": 4, "strokeJoin": "round", "clip": true},
"encoding": {
"x": {"field": "w", "type": "quantitative", "scale": {"domain": [4750, 9300], "nice": false, "zero": false}, "axis": {"values": [5000, 6000, 7000, 8000, 9000], "format": "d", "title": "Wavelength", "labelFontSize": 28, "titleFontSize": 33, "labelPadding": 9, "titlePadding": 8}},
"y": {"field": "v", "type": "quantitative", "scale": {"domain": [-0.737, 1.697], "nice": false, "zero": false, "clamp": true}, "axis": {"values": [-0.5, 0, 0.5, 1, 1.5], "format": ".1f", "title": "10⁻¹⁸ erg s⁻¹ cm⁻² Å⁻¹", "labelFontSize": 33, "titleFontSize": 46, "labelPadding": 14, "titlePadding": 24}}
}
}
]
}
